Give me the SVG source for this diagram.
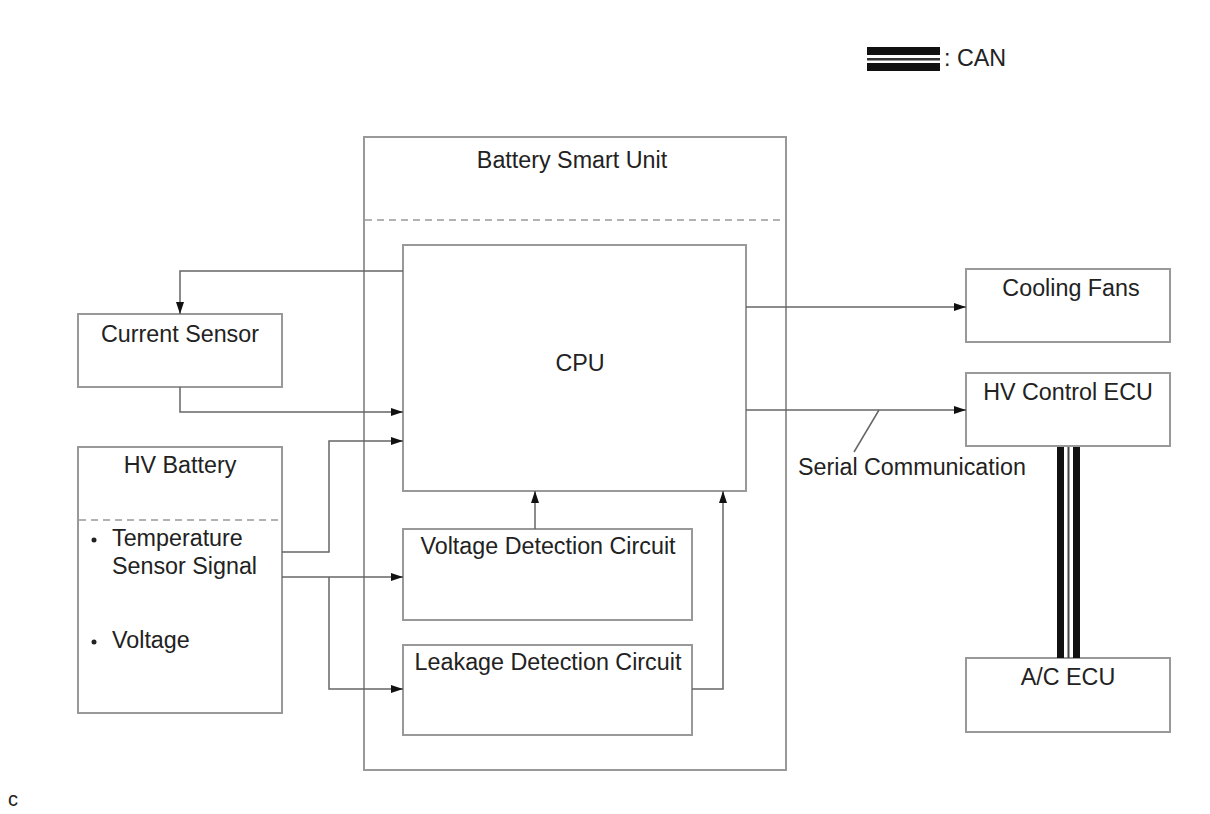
<svg xmlns="http://www.w3.org/2000/svg" width="1210" height="814" viewBox="0 0 1210 814">
<defs>
<marker id="ah" viewBox="0 0 12 8" refX="12" refY="4" markerWidth="12" markerHeight="8" markerUnits="userSpaceOnUse" orient="auto">
<path d="M0,0 L12,4 L0,8 Z" fill="#111"/>
</marker>
</defs>
<style>
.box{fill:#fff;stroke:#999;stroke-width:2}
.dash{stroke:#999;stroke-width:1.5;stroke-dasharray:7,5;fill:none}
.ln{fill:none;stroke:#666;stroke-width:1.5}
.t{font-family:"Liberation Sans",Arial,sans-serif;font-size:23.3px;fill:#222}
.c{text-anchor:middle}
</style>
<rect width="1210" height="814" fill="#fff"/>

<g id="legend">
<rect x="867" y="47" width="73" height="8" fill="#111"/>
<rect x="867" y="58" width="73" height="2.5" fill="#333"/>
<rect x="867" y="63" width="73" height="8" fill="#111"/>
<text class="t" x="944" y="66">: CAN</text>
</g>

<g id="battery-smart-unit">
<rect class="box" x="364" y="137" width="422" height="633"/>
<line class="dash" x1="365" y1="220" x2="785" y2="220"/>
<text class="t c" x="572" y="168">Battery Smart Unit</text>
</g>

<g id="cpu">
<rect class="box" x="403" y="245" width="343" height="246"/>
<text class="t c" x="580" y="371">CPU</text>
</g>

<g id="voltage-detection">
<rect class="box" x="403" y="529" width="289" height="91"/>
<text class="t c" x="548" y="554">Voltage Detection Circuit</text>
</g>

<g id="leakage-detection">
<rect class="box" x="403" y="645" width="289" height="90"/>
<text class="t c" x="548" y="670">Leakage Detection Circuit</text>
</g>

<g id="current-sensor">
<rect class="box" x="78" y="314" width="204" height="73"/>
<text class="t c" x="180" y="342">Current Sensor</text>
</g>

<g id="hv-battery">
<rect class="box" x="78" y="447" width="204" height="266"/>
<line class="dash" x1="79" y1="520" x2="281" y2="520"/>
<text class="t c" x="180" y="473">HV Battery</text>
<circle cx="94" cy="540" r="2.5" fill="#222"/>
<text class="t" x="112" y="546">Temperature</text>
<text class="t" x="112" y="574">Sensor Signal</text>
<circle cx="94" cy="642" r="2.5" fill="#222"/>
<text class="t" x="112" y="648">Voltage</text>
</g>

<g id="cooling-fans">
<rect class="box" x="966" y="269" width="204" height="73"/>
<text class="t c" x="1071" y="296">Cooling Fans</text>
</g>

<g id="hv-control-ecu">
<rect class="box" x="966" y="373" width="204" height="73"/>
<text class="t c" x="1068" y="400">HV Control ECU</text>
</g>

<g id="ac-ecu">
<rect class="box" x="966" y="658" width="204" height="74"/>
<text class="t c" x="1068" y="685">A/C ECU</text>
</g>

<g id="connectors">
<polyline class="ln" points="403,271 180,271 180,314" marker-end="url(#ah)"/>
<polyline class="ln" points="180,387 180,412 403,412" marker-end="url(#ah)"/>
<polyline class="ln" points="282,552 329,552 329,441 403,441" marker-end="url(#ah)"/>
<polyline class="ln" points="282,577 403,577" marker-end="url(#ah)"/>
<polyline class="ln" points="329,577 329,689 403,689" marker-end="url(#ah)"/>
<polyline class="ln" points="535,529 535,491" marker-end="url(#ah)"/>
<polyline class="ln" points="692,689 723,689 723,491" marker-end="url(#ah)"/>
<polyline class="ln" points="746,307 966,307" marker-end="url(#ah)"/>
<polyline class="ln" points="746,410 966,410" marker-end="url(#ah)"/>
<line class="ln" x1="879" y1="410" x2="854" y2="452"/>
<text class="t" x="798" y="475">Serial Communication</text>
<g id="can-bus">
<rect x="1057" y="447" width="7" height="211" fill="#111"/>
<rect x="1067.5" y="447" width="2" height="211" fill="#444"/>
<rect x="1073" y="447" width="7" height="211" fill="#111"/>
</g>
</g>

<text class="t" x="8" y="806" style="font-size:20px">c</text>
</svg>
